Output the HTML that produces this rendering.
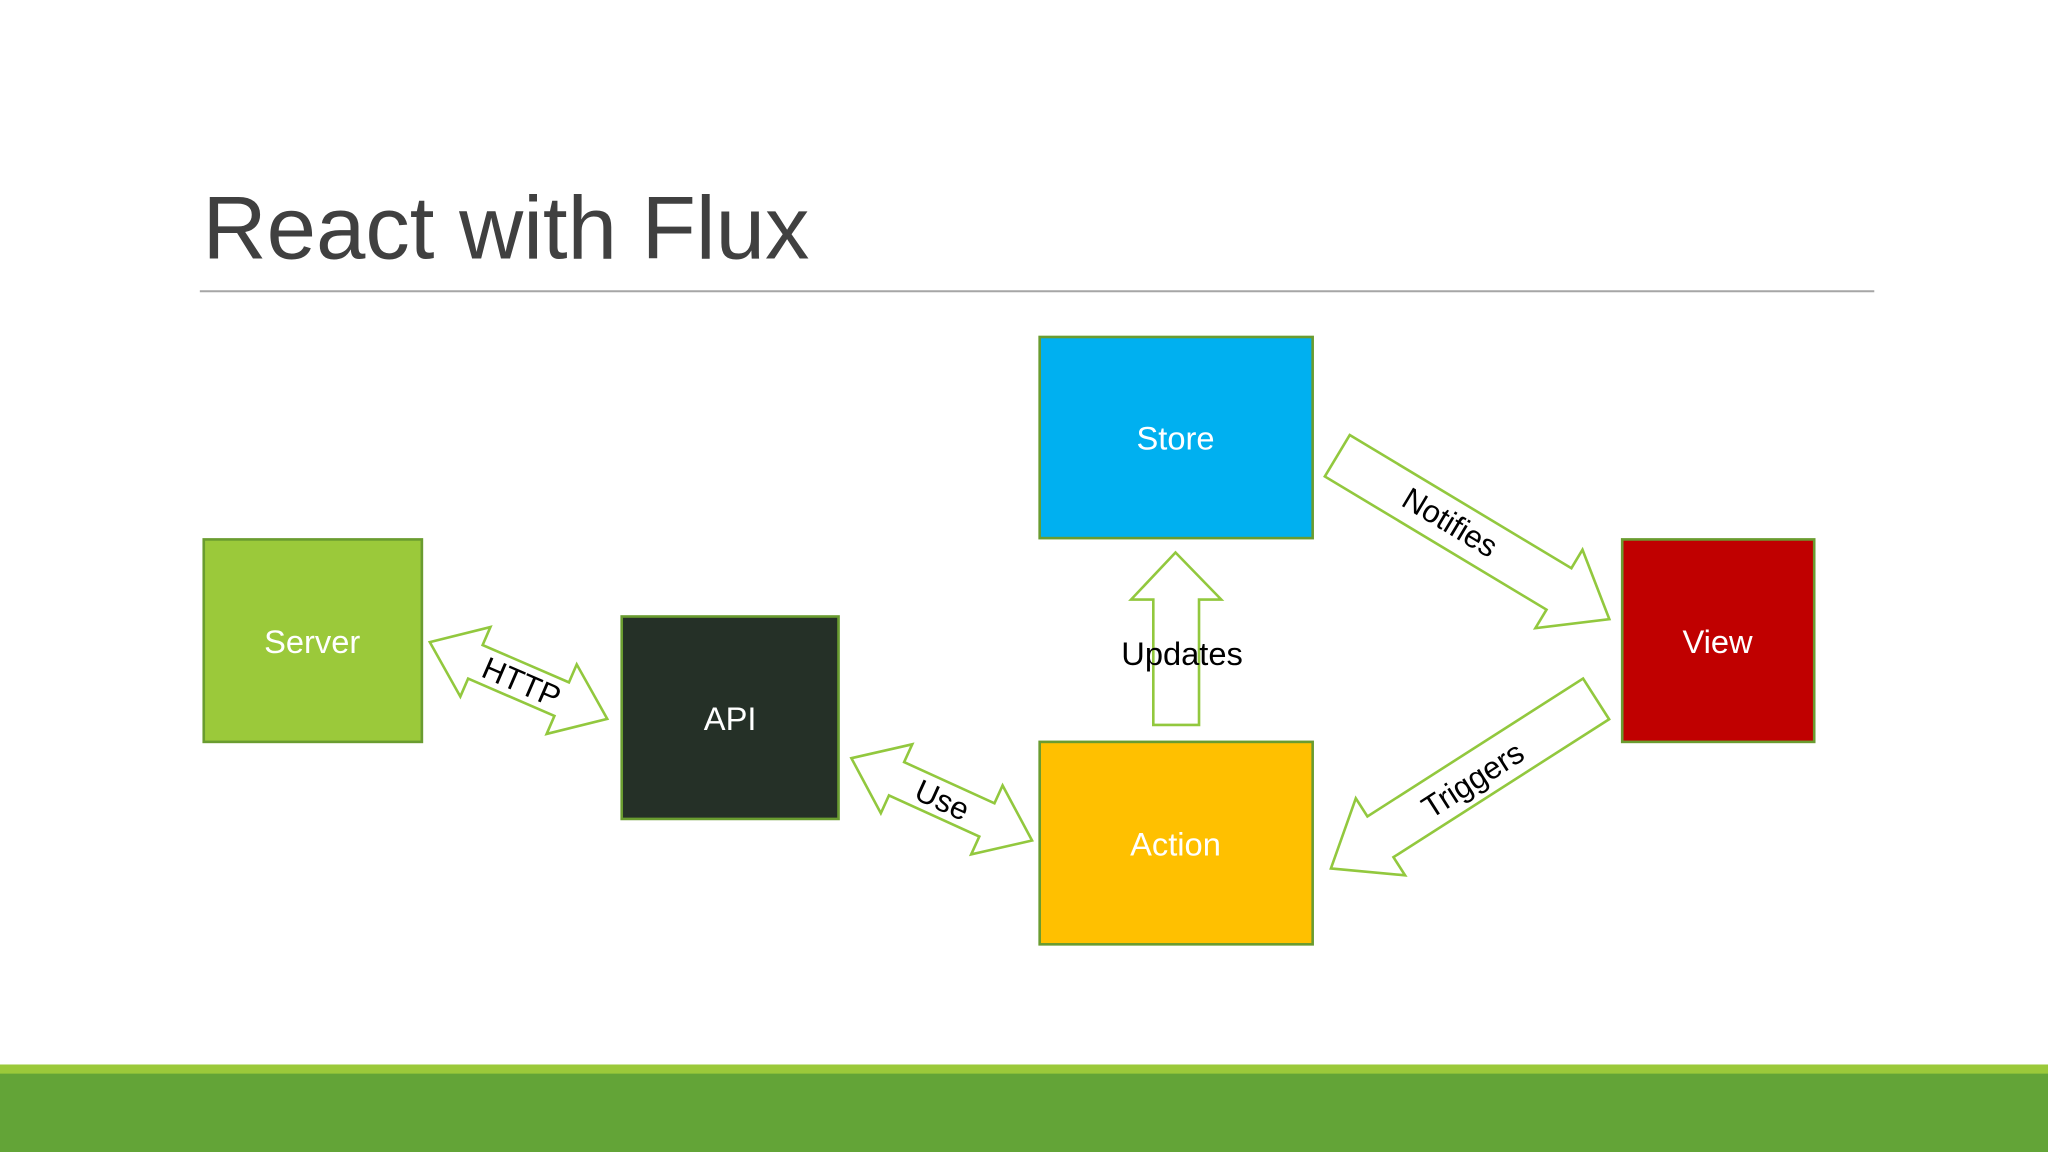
<!DOCTYPE html>
<html><head><meta charset="utf-8"><style>
html,body{margin:0;padding:0;background:#fff;}
svg{display:block;}
text{font-family:"Liberation Sans",sans-serif;}
</style></head><body>
<svg width="2048" height="1152" viewBox="0 0 1568 882" xmlns="http://www.w3.org/2000/svg">
<rect width="1568" height="882" fill="#fff"/>
<text x="155" y="198" font-size="68" fill="#404040">React with Flux</text>
<line x1="153" y1="223" x2="1435" y2="223" stroke="#a6a6a6" stroke-width="1.5"/>

<g stroke="#6a9c30" stroke-width="2">
<rect x="156" y="413" width="167" height="155" fill="#9bc93a"/>
<rect x="476" y="472" width="166" height="155" fill="#253027"/>
<rect x="796" y="258" width="209" height="154" fill="#00b0f0"/>
<rect x="796" y="568" width="209" height="155" fill="#ffc000"/>
<rect x="1242" y="413" width="147" height="155" fill="#c00000"/>
</g>
<g fill="#fff" font-size="25" text-anchor="middle">
<text x="239" y="500">Server</text>
<text x="559" y="559">API</text>
<text x="900" y="344">Store</text>
<text x="900" y="655">Action</text>
<text x="1315" y="500">View</text>
</g>

<g fill="#fff" stroke="#92c83e" stroke-width="2">
<polygon transform="translate(397,521) rotate(23.4)" points="-74,0 -36,-29 -36,-14 36,-14 36,-29 74,0 36,29 36,14 -36,14 -36,29"/>
<polygon transform="translate(721,612) rotate(24.5)" points="-76,0 -38,-29 -38,-14 38,-14 38,-29 76,0 38,29 38,14 -38,14 -38,29"/>
<polygon transform="translate(1128,411.5) rotate(31)" points="-121.5,-18.5 76.5,-18.5 76.5,-35 121.5,0 76.5,35 76.5,18.5 -121.5,18.5"/>
<polygon transform="translate(1120.5,600) rotate(147.4)" points="-120.5,-18.5 75.5,-18.5 75.5,-35 120.5,0 75.5,35 75.5,18.5 -120.5,18.5"/>
<polygon points="900,423 935,459 918,459 918,555 883,555 883,459 866,459"/>
</g>
<g fill="#000" font-size="24" text-anchor="middle">
<text transform="translate(396,530) rotate(23.4)">HTTP</text>
<text transform="translate(718,620) rotate(24.5)">Use</text>
<text transform="translate(1106,407) rotate(31)">Notifies</text>
<text transform="translate(1132,604) rotate(-32.6)">Triggers</text>
<text x="905" y="509" font-size="25">Updates</text>
</g>

<rect x="0" y="815" width="1568" height="8" fill="#9bc93a"/>
<rect x="0" y="822" width="1568" height="60" fill="#63a437"/>
</svg>
</body></html>
